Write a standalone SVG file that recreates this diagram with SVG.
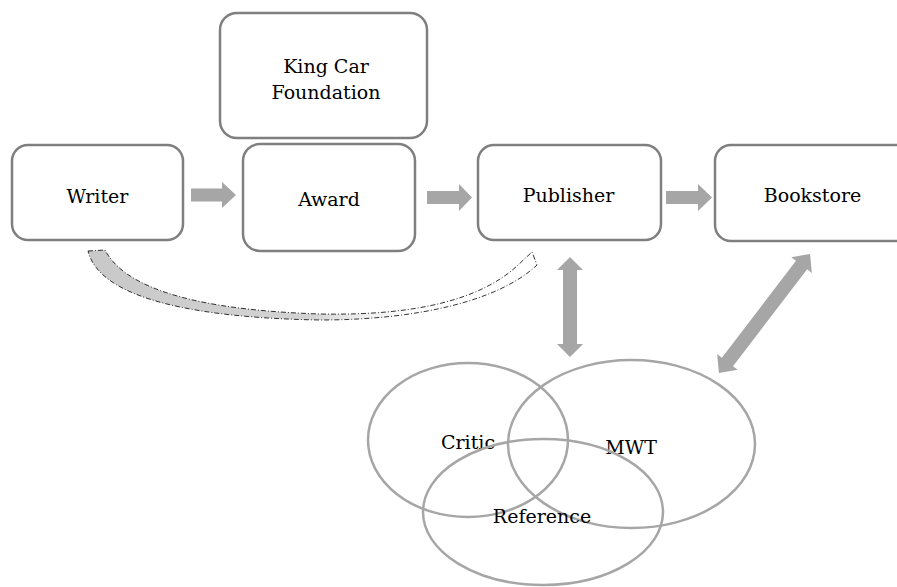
<svg xmlns="http://www.w3.org/2000/svg" width="897" height="587" viewBox="0 0 897 587">
<defs>
<style>
.box{fill:#fff;stroke:#7f7f7f;stroke-width:2.5}
.lbl{font-family:'DejaVu Serif',serif;font-size:19px;fill:#000;text-anchor:middle}
.arr{fill:#a6a6a6;stroke:none}
.ell{fill:none;stroke:#a6a6a6;stroke-width:2.5}
</style>
<linearGradient id="fade" x1="88" y1="0" x2="537" y2="0" gradientUnits="userSpaceOnUse">
<stop offset="0" stop-color="#c8c8c8"/>
<stop offset="0.5" stop-color="#d4d4d4"/>
<stop offset="0.8" stop-color="#ffffff" stop-opacity="0"/>
</linearGradient>
</defs>
<rect width="897" height="587" fill="#fff"/>
<g id="connectors">
<polygon class="arr" points="191,188.5 222,188.5 222,182 236,195 222,208 222,201.5 191,201.5"/>
<polygon class="arr" points="427,191 459,191 459,184 472,197.5 459,211 459,204 427,204"/>
<polygon class="arr" points="666,191 698,191 698,184 712,197.5 698,211 698,204 666,204"/>
<polygon class="arr" points="570,257 583,270 577,270 577,344 583,344 570,357 557,344 563,344 563,270 557,270"/>
<polygon class="arr" transform="translate(764.5,313.5) rotate(-52.6)" points="-75,0 -61,-13 -61,-7 61,-7 61,-13 75,0 61,13 61,7 -61,7 -61,13"/>
<path d="M 88,251 L 105,250 C 130,298 230,311 320,314 C 420,316 482,298 517,266 L 532,252 L 537,265 C 500,300 420,320 320,320 C 200,318 100,300 88,251 Z" fill="url(#fade)" stroke="#000" stroke-width="0.8" stroke-dasharray="5,2,1,2"/>
</g>
<g id="kingcar">
<rect class="box" x="220" y="13" width="207" height="125" rx="17"/>
<text class="lbl" x="326" y="73">King Car</text>
<text class="lbl" x="326" y="99">Foundation</text>
</g>
<g id="writer">
<rect class="box" x="12" y="145" width="171" height="95" rx="16"/>
<text class="lbl" x="97.5" y="203">Writer</text>
</g>
<g id="award">
<rect class="box" x="243" y="144" width="172" height="107" rx="17"/>
<text class="lbl" x="329" y="206">Award</text>
</g>
<g id="publisher">
<rect class="box" x="478" y="145" width="183" height="95" rx="16"/>
<text class="lbl" x="568.5" y="202">Publisher</text>
</g>
<g id="bookstore">
<rect class="box" x="715" y="145" width="200" height="96" rx="16"/>
<text class="lbl" x="812.5" y="202">Bookstore</text>
</g>
<g id="critic">
<ellipse class="ell" cx="468" cy="440" rx="100" ry="77"/>
<text class="lbl" x="468" y="449">Critic</text>
</g>
<g id="mwt">
<ellipse class="ell" cx="631.5" cy="444" rx="123.5" ry="84"/>
<text class="lbl" x="631" y="454">MWT</text>
</g>
<g id="reference">
<ellipse class="ell" cx="543" cy="512" rx="120" ry="73"/>
<text class="lbl" x="542" y="523">Reference</text>
</g>
</svg>
